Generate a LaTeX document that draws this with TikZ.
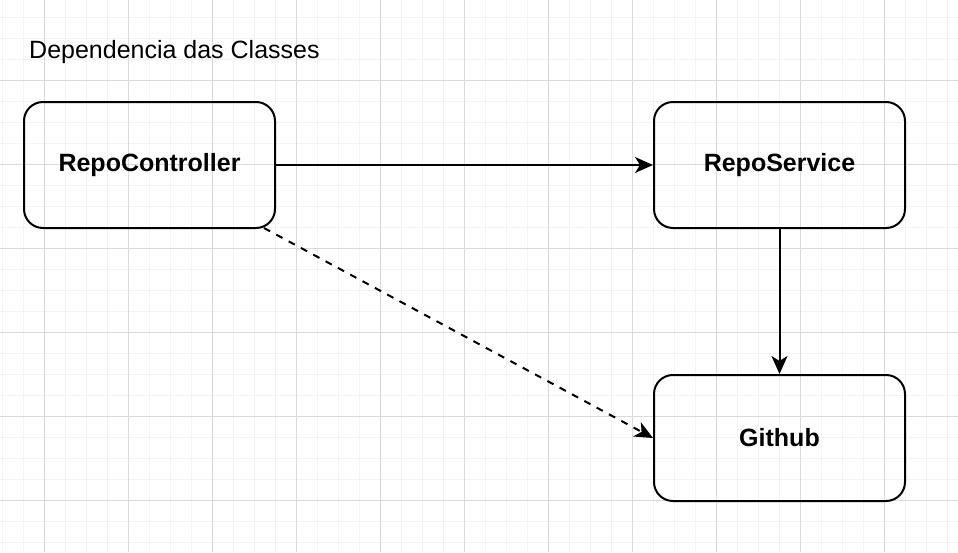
\documentclass[tikz,border=0pt]{standalone}
\usepackage{fontspec}
\setmainfont{Liberation Sans}
\usetikzlibrary{arrows.meta}
\definecolor{gmajor}{HTML}{DADADA}
\definecolor{gminor}{HTML}{F3F3F3}
\tikzset{
  box/.style={draw=black, line width=2pt, rounded corners=19pt, minimum width=251pt, minimum height=126pt, inner sep=0pt, font=\fontsize{25}{29}\selectfont\bfseries},
  conn/.style={draw=black, line width=2pt, -{Stealth[length=18pt, width=16pt, inset=5pt]}},
}
\begin{document}
\begin{tikzpicture}[x=1pt, y=-1pt]
\useasboundingbox (0,0) rectangle (958,552);
\fill[white] (0,0) rectangle (958,552);
\foreach \i in {0,...,46} {
  \draw[gminor, line width=1pt] ({2+21*\i},0) -- ({2+21*\i},552);
}
\foreach \j in {0,...,27} {
  \draw[gminor, line width=1pt] (0,{17+21*\j}) -- (958,{17+21*\j});
}
\foreach \i in {0,...,11} {
  \draw[gmajor, line width=1pt] ({44+84*\i},0) -- ({44+84*\i},552);
}
\foreach \j in {0,...,6} {
  \draw[gmajor, line width=1pt] (0,{80+84*\j}) -- (958,{80+84*\j});
}
\node[anchor=base west, inner sep=0pt, font=\fontsize{25}{29}\selectfont] (title) at (29,58) {Dependencia das Classes};
\node[box] (ctrl) at (149.5,165) {RepoController};
\node[box] (svc) at (779.5,165) {RepoService};
\node[box] (gh) at (779.5,438) {Github};
\coordinate (ctrlcorner) at (264,228);
\draw[conn] (ctrl.east) -- (svc.west);
\draw[conn] (svc.south) -- (gh.north);
\draw[conn, dash pattern=on 7pt off 7pt] (ctrlcorner) -- (gh.west);
\end{tikzpicture}
\end{document}
